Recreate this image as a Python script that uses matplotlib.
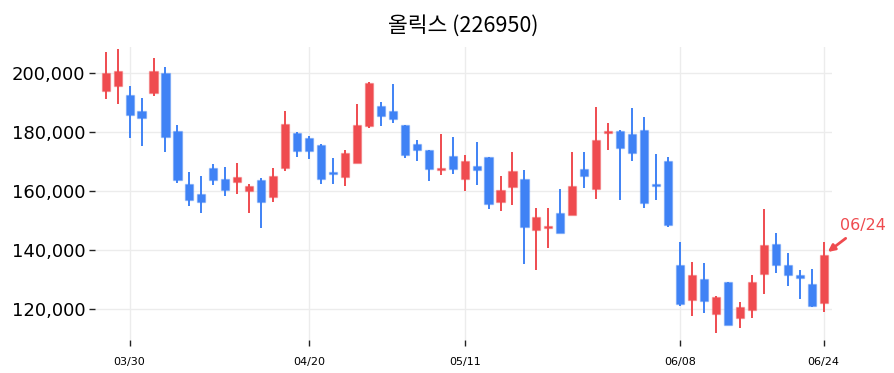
import numpy as np
import matplotlib
matplotlib.use("Agg")
import matplotlib.pyplot as plt
from matplotlib.ticker import FuncFormatter

plt.rcParams['font.family'] = ['Noto Sans CJK KR', 'DejaVu Sans']

# 2026 trading days, 03/26 .. 06/24
dates = ["03/26", "03/27", "03/30", "03/31",
         "04/01", "04/02", "04/03", "04/06", "04/07", "04/08", "04/09", "04/10",
         "04/13", "04/14", "04/15", "04/16", "04/17", "04/20", "04/21", "04/22",
         "04/23", "04/24", "04/27", "04/28", "04/29", "04/30",
         "05/04", "05/06", "05/07", "05/08", "05/11", "05/12", "05/13", "05/14",
         "05/15", "05/18", "05/19", "05/20", "05/21", "05/22", "05/26", "05/27",
         "05/28", "05/29",
         "06/01", "06/02", "06/04", "06/05", "06/08", "06/09", "06/10", "06/11",
         "06/12", "06/15", "06/16", "06/17", "06/18", "06/19", "06/22", "06/23",
         "06/24"]

opens = [194000, 195800, 192600, 187000, 193400, 200100, 180400, 162300, 159000, 167900,
         164200, 162900, 160100, 163800, 157800, 167900, 179800, 177900, 175500, 166200,
         164900, 169600, 182100, 188900, 187200, 182400, 176000, 173900, 167400, 171900,
         164200, 168500, 171500, 156100, 161500, 164000, 146600, 147500, 152500, 151900,
         167500, 160700, 179900, 180400, 179400, 180700, 162200, 170200, 134900, 123000,
         130100, 118300, 129000, 117000, 119600, 131800, 142000, 134900, 131500, 128500,
         122100]
closes = [200000, 200800, 185900, 184900, 200800, 178500, 163900, 157100, 156100, 163900,
          160500, 164900, 161700, 156400, 165100, 182800, 173600, 173700, 164200, 166000,
          172900, 182400, 196700, 185300, 184500, 172300, 173900, 167400, 167600, 167600,
          170300, 167200, 155600, 160400, 166900, 147900, 151100, 147900, 145900, 161700,
          165100, 177300, 180100, 174700, 172800, 155900, 162000, 148500, 121600, 131500,
          122800, 124100, 114500, 120700, 129000, 141700, 134700, 131500, 130400, 121100,
          138300]
highs = [207300, 208200, 195500, 191700, 205100, 202000, 182300, 166600, 165200, 169100,
         168300, 169400, 162300, 164300, 167700, 187200, 180000, 178800, 175900, 171300,
         174000, 189500, 196900, 190200, 196300, 182500, 177300, 174000, 179300, 178300,
         172300, 176800, 171600, 165200, 173200, 167100, 154200, 154200, 160600, 173400,
         173400, 188500, 183000, 180600, 188100, 185100, 172500, 171700, 142600, 136000,
         135500, 124200, 129200, 122400, 131500, 153800, 145700, 139100, 133000, 133400,
         142600]
lows = [191200, 189600, 177900, 175300, 192300, 173200, 162600, 154800, 152600, 162100,
        158300, 159000, 152500, 147500, 156400, 166800, 171500, 170900, 162300, 162400,
        161700, 169400, 181500, 182100, 183000, 171100, 170200, 163400, 165500, 165800,
        160000, 162100, 153900, 153200, 155300, 135200, 133200, 140600, 145700, 151800,
        160900, 157200, 174000, 157000, 170200, 154200, 157000, 147700, 121100, 117600,
        118500, 111700, 114400, 113400, 116800, 125000, 132100, 127800, 123300, 120500,
        118800]

tick_dates = ["03/30", "04/20", "05/11", "06/08", "06/24"]

up_color = "#ef4b4f"
down_color = "#3f82f5"

x = np.arange(len(dates))
o = np.array(opens)
c = np.array(closes)
h = np.array(highs)
l = np.array(lows)
colors = [up_color if cc >= oo else down_color for oo, cc in zip(o, c)]

fig = plt.figure(figsize=(8.95, 3.73), dpi=100)
ax = fig.add_axes([0.106, 0.0885, 0.8236, 0.7855])

ax.vlines(x, l, h, colors=colors, linewidth=1.4, zorder=2)
bottom = np.minimum(o, c)
height = np.maximum(np.abs(c - o), 700)
bottom = np.where(np.abs(c - o) < 700, (o + c) / 2 - 350, bottom)
ax.bar(x, height, bottom=bottom, width=0.68, color=colors,
       edgecolor=[col + "55" for col in colors], linewidth=1.0, zorder=3)

ax.set_xlim(-0.9, 60.7)
ax.set_ylim(109400, 208900)
ax.set_yticks([120000, 140000, 160000, 180000, 200000])
ax.yaxis.set_major_formatter(FuncFormatter(lambda v, p: f"{int(v):,}"))
ax.set_xticks([dates.index(d) for d in tick_dates])
ax.set_xticklabels(tick_dates, family="DejaVu Sans", fontsize=8)
for t in ax.get_yticklabels():
    t.set_family("DejaVu Sans")
    t.set_fontsize(13)
ax.tick_params(axis="y", length=4, width=1, color="#222222", pad=3)
ax.tick_params(axis="x", length=4, width=1, color="#222222", pad=8)

ax.grid(True, color="#ececec", linewidth=1, zorder=0)
ax.set_axisbelow(True)
for s in ax.spines.values():
    s.set_visible(False)

ax.set_title("올릭스 (226950)", fontsize=15.5, pad=11)

last = len(dates) - 1
ax.annotate(dates[last], xy=(last + 0.35, highs[last] - 3300),
            xytext=(25, 19), textcoords="offset points",
            ha="center", va="center",
            color=up_color, fontsize=11.5, family="DejaVu Sans",
            arrowprops=dict(arrowstyle="-|>", color=up_color, lw=2,
                            mutation_scale=10, shrinkA=3, shrinkB=0),
            annotation_clip=False)

fig.savefig("out.png", dpi=100)
